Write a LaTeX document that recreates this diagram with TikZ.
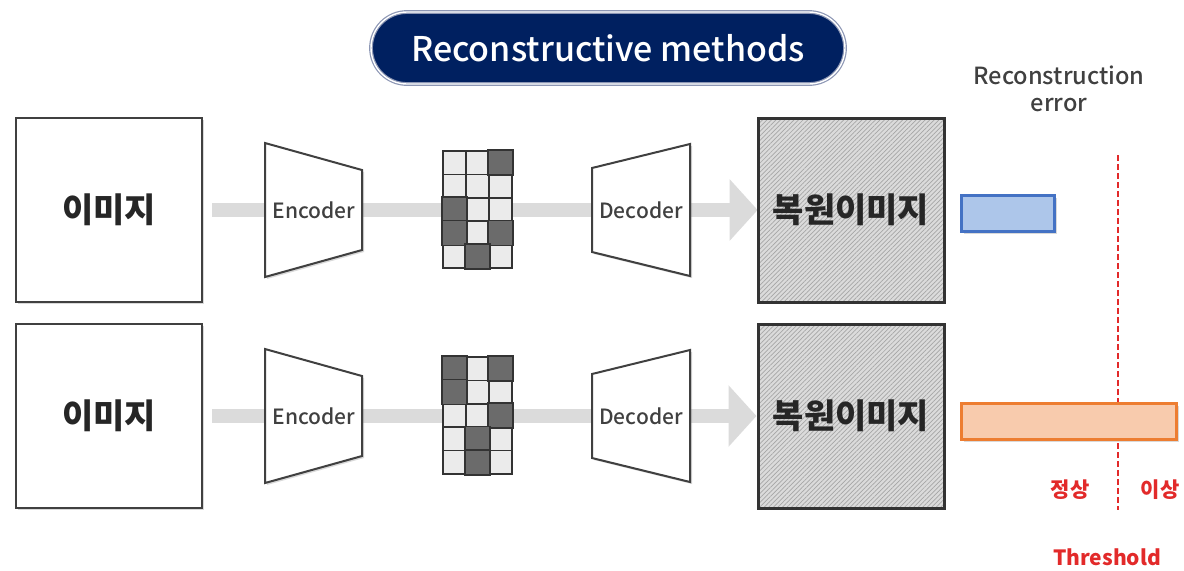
\documentclass[tikz,border=0pt]{standalone}
\usepackage{fontspec}
\setmainfont{Noto Sans CJK KR}
\newfontfamily\medfont{Noto Sans CJK KR Medium}
\usetikzlibrary{arrows.meta,positioning,calc,backgrounds,patterns.meta,shadows}
\definecolor{navy}{RGB}{0,32,96}
\definecolor{rimgray}{RGB}{140,150,180}
\definecolor{barblue}{RGB}{173,198,234}
\definecolor{edgeblue}{RGB}{68,114,196}
\definecolor{barorange}{RGB}{248,203,173}
\definecolor{edgeorange}{RGB}{237,125,49}
\definecolor{thred}{RGB}{226,42,42}
\definecolor{txtgray}{RGB}{64,64,64}
\definecolor{celloff}{RGB}{235,235,235}
\definecolor{cellon}{RGB}{107,107,107}
\tikzset{
  shade1/.style={drop shadow={opacity=.3,shadow xshift=1pt,shadow yshift=-1pt}},
  ttl/.style={rounded corners=18pt, fill=navy, draw=rimgray, double=white,
              double distance=.7pt, line width=.6pt, minimum width=237pt,
              minimum height=36pt, text=white,
              font=\fontsize{17}{20}\medfont},
  imgbox/.style={draw=black!75, line width=1pt, fill=white, shade1,
                 minimum width=93pt, minimum height=92pt, inner sep=0pt,
                 text=black!85, font=\fontsize{17}{20}\selectfont\bfseries},
  recbox/.style={imgbox, draw=black!80, line width=1.5pt,
                 preaction={fill=black!14},
                 pattern={Lines[angle=45,distance=1.6pt,line width=.35pt]},
                 pattern color=black!35},
  coder/.style={draw=black!75, line width=1pt, fill=white, shade1},
  lbl/.style={text=txtgray, inner sep=1pt, font=\fontsize{10.5}{13.5}\medfont},
  cell/.style={draw=black!80, line width=.8pt, fill=celloff, inner sep=0pt,
               minimum width=11.5pt, minimum height=11.7pt},
  cellline/.style={draw=black!80, line width=.8pt, fill=cellon},
  band/.style={line width=7pt, draw=black!14, -{Triangle[length=14pt,width=30pt]}},
  errbar/.style={line width=1.5pt, inner sep=0pt, minimum height=18pt, shade1},
  thr/.style={draw=thred, line width=1pt, dash pattern=on 3pt off 1.5pt},
  redt/.style={text=thred, inner sep=1pt, font=\fontsize{10.5}{12}\selectfont\bfseries},
}
\begin{document}
\begin{tikzpicture}[x=0.5pt,y=-0.5pt]
  \useasboundingbox (0,0) rectangle (1184,570);
  \node[ttl] (title) at (608,48) {Reconstructive methods};
  % images in and out
  \node[imgbox] (in1) at (109,210) {이미지};
  \node[imgbox] (in2) at (109,416) {이미지};
  \node[recbox] (rec1) at (851,210) {복원이미지};
  \node[recbox] (rec2) at (851,416) {복원이미지};
  % encoders and decoders
  \draw[coder] (265,143) -- (362,170) -- (362,250) -- (265,277) -- cycle
    (314,210) node[lbl] (enc1) {Encoder};
  \draw[coder] (265,349) -- (362,376) -- (362,456) -- (265,483) -- cycle
    (314,416) node[lbl] (enc2) {Encoder};
  \draw[coder] (592,168) -- (690,144) -- (690,276) -- (592,252) -- cycle
    (641,210) node[lbl] (dec1) {Decoder};
  \draw[coder] (592,374) -- (690,350) -- (690,482) -- (592,458) -- cycle
    (641,416) node[lbl] (dec2) {Decoder};
  % latent codes
  \foreach \c in {1,2,3}
    \foreach \r in {1,...,5} {
      \node[cell] (za-\c-\r) at ({443+23*(\c-.5)},{151+23.4*(\r-.5)}) {};
      \node[cell] (zb-\c-\r) at ({443+23*(\c-.5)},{357+23.4*(\r-.5)}) {};
    }
  \foreach \c/\r in {3/1,1/3,1/4,3/4,2/5}
    \draw[cellline] (za-\c-\r.north west) rectangle (za-\c-\r.south east);
  \foreach \c/\r in {1/1,3/1,1/2,3/3,2/4,2/5}
    \draw[cellline] (zb-\c-\r.north west) rectangle (zb-\c-\r.south east);
  % flow
  \begin{scope}[on background layer]
    \draw[band] ([xshift=4.5pt]in1.east) -- (rec1.west);
    \draw[band] ([xshift=4.5pt]in2.east) -- (rec2.west);
  \end{scope}
  % errors and threshold
  \node[lbl, align=center, font=\fontsize{11.8}{13.5}\medfont] (errt) at (1059,89)
    {Reconstruction\\error};
  \coordinate (th1) at (1118,155);
  \coordinate (th2) at (1118,510);
  \draw[thr] (th1) -- (th2);
  \node[errbar, draw=edgeblue, fill=barblue, minimum width=46.5pt] (err1) at (1008,213.5) {};
  \node[errbar, draw=edgeorange, fill=barorange, minimum width=107.5pt] (err2) at (1069,421.5) {};
  \node[redt] (ok) at (1070,490) {정상};
  \node[redt] (ng) at (1160,490) {이상};
  \node[redt] (thl) at (1107,557) {Threshold};
\end{tikzpicture}
\end{document}
